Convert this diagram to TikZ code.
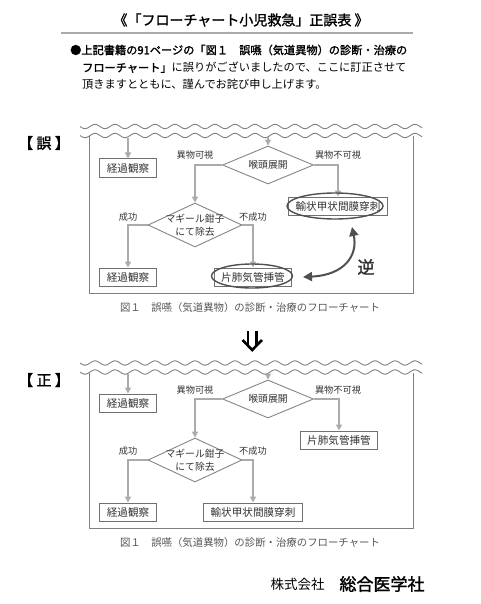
\documentclass[tikz,border=0pt]{standalone}
\usepackage{fontspec}
\setmainfont{Noto Sans CJK JP}
\newfontfamily\jpbold[FakeBold=1.6]{Noto Sans CJK JP}
\usetikzlibrary{arrows.meta, shapes.geometric}
\definecolor{flowgray}{HTML}{ABABAB}
\definecolor{boxline}{HTML}{707070}
\definecolor{dialine}{HTML}{858585}
\definecolor{chartink}{HTML}{333333}
\definecolor{capink}{HTML}{555555}
\definecolor{markline}{HTML}{505050}
\definecolor{frameline}{HTML}{808080}
\definecolor{ruleline}{HTML}{AAAAAA}
\tikzset{
  chartbox/.style  = {draw=boxline, line width=1pt, fill=white, text=chartink,
                      font=\fontsize{10.6}{12}\selectfont, inner xsep=7pt,
                      inner ysep=0pt, minimum height=18pt},
  chartdia/.style  = {diamond, draw=dialine, line width=0.9pt, fill=white, inner sep=0pt},
  dialabel/.style  = {text=chartink, align=center, inner sep=0pt,
                      font=\fontsize{9.8}{13}\selectfont},
  branch/.style    = {text=chartink, font=\fontsize{9.2}{10}\selectfont},
  flow/.style      = {-{Triangle[length=6pt, width=6pt]}, line width=1.8pt, draw=flowgray},
  wrongmark/.style = {ellipse, draw=markline, line width=1.4pt, inner sep=0pt},
  swap/.style      = {{Triangle[length=9pt, width=9pt]}-{Triangle[length=9pt, width=9pt]},
                      line width=2pt, draw=markline},
  wave/.style      = {draw=frameline, line width=0.9pt},
  frame/.style     = {draw=frameline, line width=0.9pt},
  caption/.style   = {text=capink, font=\fontsize{10.4}{12}\selectfont},
  verdict/.style   = {font=\jpbold\fontsize{15}{16}\selectfont},
  notice/.style    = {anchor=west, inner sep=0pt, font=\fontsize{11.2}{12}\selectfont},
}
\begin{document}
\begin{tikzpicture}[x=1pt, y=-1pt]
\useasboundingbox (0,0) rectangle (480,604);

% heading
\node[font=\jpbold\fontsize{14}{15}\selectfont] (title) at (241,20)
    {《「フローチャート小児救急」正誤表 》};
\draw[ruleline, line width=1.4pt] (61,33) -- (413,33);
\node[notice] (note1) at (70,50)
    {\jpbold ●上記書籍の91ページの「図１　誤嚥（気道異物）の診断・治療の};
\node[notice] (note2) at (82,67.5)
    {{\jpbold フローチャート」}に誤りがございましたので、ここに訂正させて};
\node[notice] (note3) at (82,84) {頂きますとともに、謹んでお詫び申し上げます。};

% wrong version
\node[verdict] (wrong) at (44,143) {【 誤 】};
\foreach \wy in {126.5, 135.5}
  \draw[wave] plot[domain=80:422, samples=180] (\x, {\wy+2.2*sin(18*\x)});
\draw[frame] (89,136) |- (413,293) -- (413,136);
\coordinate (w-in1) at (128,138);
\coordinate (w-in2) at (268,137);
\node[chartbox] (w-obs1) at (128,168) {経過観察};
\node[chartdia, minimum width=91pt, minimum height=38pt,
      label={[dialabel]center:喉頭展開}] (w-larynx) at (268,165) {};
\node[chartdia, minimum width=94pt, minimum height=44pt,
      label={[dialabel]center:マギール鉗子\\にて除去}] (w-magill) at (195,225) {};
\node[chartbox] (w-crico) at (338,206) {輸状甲状間膜穿刺};
\node[chartbox] (w-obs2) at (128,277) {経過観察};
\node[chartbox] (w-intub) at (253,277) {片肺気管挿管};
\node[branch] (w-seen) at (195,155) {異物可視};
\node[branch] (w-unseen) at (338,155) {異物不可視};
\node[branch] (w-ok) at (128,217) {成功};
\node[branch] (w-fail) at (253,217) {不成功};
\draw[flow] (w-in1) -- (w-obs1.north);
\draw[flow] (w-in2) -- (w-larynx.north);
\draw[flow] (w-larynx.west) -| (w-magill.north);
\draw[flow] (w-larynx.east) -| (w-crico.north);
\draw[flow] (w-magill.west) -| (w-obs2.north);
\draw[flow] (w-magill.east) -| (w-intub.north);
\node[wrongmark, minimum width=96pt, minimum height=26pt] (w-cricomark) at (335,206) {};
\node[wrongmark, minimum width=81pt, minimum height=24pt] (w-intubmark) at (252,276) {};
\coordinate (w-swapa) at (303,277);
\coordinate (w-swapb) at (352,227);
\draw[swap] (w-swapa) .. controls (345,275) and (358,255) .. (w-swapb);
\node[font=\jpbold\fontsize{17}{18}\selectfont, text=chartink] (w-rev) at (366,267) {逆};
\node[caption] (w-cap) at (250,308) {図１　誤嚥（気道異物）の診断・治療のフローチャート};

% turn arrow
\draw[line width=2.6pt] (248,331) -- (248,346) (256.5,331) -- (256.5,346);
\draw[line width=2.6pt, line join=miter] (242.5,340) -- (252.2,350) -- (262,340);

% corrected version
\begin{scope}[shift={(0,235)}]
\node[verdict] (right) at (44,145) {【 正 】};
\foreach \wy in {128, 137}
  \draw[wave] plot[domain=80:422, samples=180] (\x, {\wy+2.2*sin(18*\x)});
\draw[frame] (89,137.5) |- (413,293) -- (413,137.5);
\coordinate (c-in1) at (128,139);
\coordinate (c-in2) at (268,138.5);
\node[chartbox] (c-obs1) at (128,168) {経過観察};
\node[chartdia, minimum width=91pt, minimum height=38pt,
      label={[dialabel]center:喉頭展開}] (c-larynx) at (268,164) {};
\node[chartdia, minimum width=94pt, minimum height=44pt,
      label={[dialabel]center:マギール鉗子\\にて除去}] (c-magill) at (195,225) {};
\node[chartbox] (c-intub) at (339,205) {片肺気管挿管};
\node[chartbox] (c-obs2) at (128,277) {経過観察};
\node[chartbox] (c-crico) at (253,277) {輸状甲状間膜穿刺};
\node[branch] (c-seen) at (195,155) {異物可視};
\node[branch] (c-unseen) at (338,155) {異物不可視};
\node[branch] (c-ok) at (128,216) {成功};
\node[branch] (c-fail) at (253,216) {不成功};
\draw[flow] (c-in1) -- (c-obs1.north);
\draw[flow] (c-in2) -- (c-larynx.north);
\draw[flow] (c-larynx.west) -| (c-magill.north);
\draw[flow] (c-larynx.east) -| (c-intub.north);
\draw[flow] (c-magill.west) -| (c-obs2.north);
\draw[flow] (c-magill.east) -| (c-crico.north);
\node[caption] (c-cap) at (250,308) {図１　誤嚥（気道異物）の診断・治療のフローチャート};
\end{scope}

% publisher
\node[font=\fontsize{13.5}{15}\selectfont] (corp) at (297.5,584) {株式会社};
\node[font=\jpbold\fontsize{17}{18}\selectfont] (press) at (382,584) {総合医学社};
\end{tikzpicture}
\end{document}
